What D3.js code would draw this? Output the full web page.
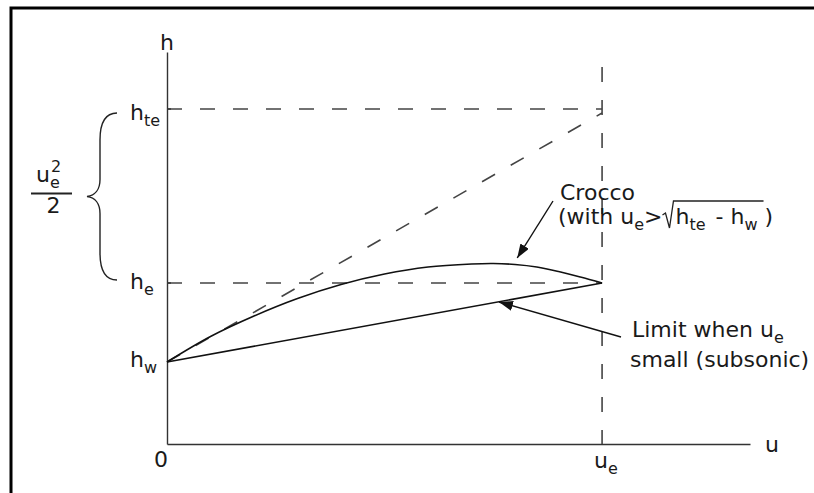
<!DOCTYPE html>
<html>
<head>
<meta charset="utf-8">
<script src="https://cdn.jsdelivr.net/npm/d3@7"></script>
<style>
  body { margin: 0; background: #fff; }
  text { font-family: "DejaVu Sans", Verdana, sans-serif; fill: #1a1a1a; }
</style>
</head>
<body>
<div id="chart"></div>
<script>
// axis extents (u in units of u_e, h in drawing units)
const uMax = 1.34;
const hMax = 392;
const uEdge = 1;
const hDashTop = 377;

// enthalpy levels on the h axis
const levelNames = ["w", "e", "te"];
const levelValues = [82, 161, 335];

// Crocco profile
const croccoU = [0, 0.1, 0.2, 0.3, 0.4, 0.5, 0.6, 0.7, 0.75, 0.8, 0.85, 0.9, 0.95, 1.0];
const croccoH = [82, 107.5, 128, 145.5, 159.5, 170, 177, 180, 180.5, 179.5, 177, 172.5, 167, 161];

// limit for small u_e (straight line h_w -> h_e)
const limitU = [0, 1];
const limitH = [82, 161];

// dashed diagonal h_w -> h_te
const diagU = [0, 1];
const diagH = [82, 331];

// arrow tips for the annotations
const croccoTip = [0.805, 186];
const limitTip = [0.763, 142];

const width = 814, height = 493;

const svg = d3.select("#chart").append("svg")
    .attr("width", width)
    .attr("height", height);

svg.append("defs").append("marker")
    .attr("id", "arrow")
    .attr("viewBox", "0 0 14 10")
    .attr("refX", 14)
    .attr("refY", 5)
    .attr("markerWidth", 14)
    .attr("markerHeight", 10)
    .attr("markerUnits", "userSpaceOnUse")
    .attr("orient", "auto")
  .append("path")
    .attr("d", "M0,0 L14,5 L0,10 z")
    .attr("fill", "#111");

// frame (only top and left edges are in view)
svg.append("rect")
    .attr("x", 11).attr("y", 8)
    .attr("width", 900).attr("height", 600)
    .attr("fill", "none")
    .attr("stroke", "#000")
    .attr("stroke-width", 3);

const x = d3.scaleLinear().domain([0, uMax]).range([167, 750]);
const y = d3.scaleLinear().domain([0, hMax]).range([444, 52]);

// axes
svg.append("g")
    .attr("transform", `translate(0,${y(0)})`)
    .call(d3.axisBottom(x).tickValues([]).tickSizeOuter(0))
    .call(g => g.select(".domain").attr("stroke", "#333").attr("stroke-width", 1.4));
svg.append("g")
    .attr("transform", `translate(${x(0)},0)`)
    .call(d3.axisLeft(y).tickValues([]).tickSizeOuter(0))
    .call(g => g.select(".domain").attr("stroke", "#333").attr("stroke-width", 1.4));

const dashed = svg.append("g")
    .attr("stroke", "#444")
    .attr("stroke-width", 1.6)
    .attr("stroke-dasharray", "15,18")
    .attr("fill", "none");

// horizontal dashed lines at h_e and h_te
dashed.selectAll("line.level")
  .data([levelValues[1], levelValues[2]])
  .join("line")
    .attr("class", "level")
    .attr("x1", x(0)).attr("x2", x(uEdge))
    .attr("y1", d => y(d)).attr("y2", d => y(d));

// vertical dashed line at u_e
dashed.append("line")
    .attr("x1", x(uEdge)).attr("x2", x(uEdge))
    .attr("y1", y(hDashTop)).attr("y2", y(0));

const line = d3.line().x(d => x(d[0])).y(d => y(d[1]));

// dashed diagonal
dashed.append("path")
    .attr("d", line(d3.zip(diagU, diagH)));

// small ticks on the h axis
svg.append("g").selectAll("line")
  .data([levelValues[1], levelValues[2]])
  .join("line")
    .attr("x1", x(0)).attr("x2", x(0) + 4)
    .attr("y1", d => y(d)).attr("y2", d => y(d))
    .attr("stroke", "#333").attr("stroke-width", 1.4);

// limit line and Crocco curve
svg.append("path")
    .attr("d", line(d3.zip(limitU, limitH)))
    .attr("fill", "none")
    .attr("stroke", "#111")
    .attr("stroke-width", 1.6);

svg.append("path")
    .attr("d", line.curve(d3.curveCatmullRom.alpha(0.5))(d3.zip(croccoU, croccoH)))
    .attr("fill", "none")
    .attr("stroke", "#111")
    .attr("stroke-width", 1.6);

// one text element with subscripts as tspans, returns x extents of each part
const mainSize = 22, subSize = 16;
function rich(g, x0, base, parts) {
  const t = g.append("text")
      .attr("x", x0).attr("y", base)
      .attr("font-size", mainSize);
  let cx = x0, prev = 0;
  const pos = [];
  parts.forEach(p => {
    const shift = p.sub ? 6 : 0;
    const ts = t.append("tspan")
        .attr("dy", shift - prev)
        .attr("dx", p.dx || 0)
        .attr("font-size", p.sub ? subSize : mainSize)
        .text(p.t);
    prev = shift;
    cx += p.dx || 0;
    const w = ts.node().getComputedTextLength();
    pos.push([cx, cx + w]);
    cx += w;
  });
  return pos;
}

const labels = svg.append("g");

// axis titles
labels.append("text")
    .attr("x", x(0)).attr("y", 50)
    .attr("text-anchor", "middle")
    .attr("font-size", mainSize)
    .text("h");
labels.append("text")
    .attr("x", x(uMax) + 15).attr("y", 452)
    .attr("font-size", mainSize)
    .text("u");
labels.append("text")
    .attr("x", x(0) - 6).attr("y", 467)
    .attr("text-anchor", "middle")
    .attr("font-size", mainSize)
    .text("0");
rich(labels, x(uEdge) - 8, 468, [{t: "u"}, {t: "e", sub: true}]);

// h level labels
const levelShift = [5, 6, 11];
levelValues.forEach((v, i) => {
  rich(labels, 130, y(v) + levelShift[i], [{t: "h"}, {t: levelNames[i], sub: true}]);
});

// brace between h_te and h_e
const bt = y(levelValues[2]) + 4, bb = y(levelValues[1]) - 3, bm = (bt + bb) / 2;
const bp = d3.path();
bp.moveTo(117, bt);
bp.bezierCurveTo(104, bt, 100, bt + 12, 100, bt + 27);
bp.lineTo(100, bm - 17);
bp.bezierCurveTo(100, bm - 7, 95, bm - 1, 87, bm);
bp.bezierCurveTo(95, bm + 1, 100, bm + 7, 100, bm + 17);
bp.lineTo(100, bb - 27);
bp.bezierCurveTo(100, bb - 12, 104, bb, 117, bb);
svg.append("path")
    .attr("d", bp.toString())
    .attr("fill", "none")
    .attr("stroke", "#222")
    .attr("stroke-width", 1.4);

// u_e^2 / 2
const num = labels.append("text").attr("x", 36).attr("y", 182).attr("font-size", mainSize);
num.append("tspan").text("u");
num.append("tspan").attr("dy", 6).attr("font-size", subSize).text("e");
num.append("tspan").attr("x", 51).attr("dy", -16).attr("font-size", subSize).text("2");
svg.append("line")
    .attr("x1", 31).attr("x2", 72).attr("y1", bm - 3).attr("y2", bm - 3)
    .attr("stroke", "#222").attr("stroke-width", 1.8);
labels.append("text").attr("x", 53.5).attr("y", 213)
    .attr("text-anchor", "middle").attr("font-size", mainSize).text("2");

// Crocco annotation
labels.append("text").attr("x", 560).attr("y", 200).attr("font-size", mainSize).text("Crocco");
const p1 = rich(labels, 558, 224, [
  {t: "(with u"}, {t: "e", sub: true}, {t: ">"},
  {t: "h", dx: 13}, {t: "te", sub: true}, {t: " - h", dx: 3}, {t: "w", sub: true}, {t: "  )"}
]);
const rx = p1[2][1];
svg.append("path")
    .attr("d", `M${rx},215 L${rx + 3},213 L${rx + 7},228 L${rx + 11},201 L${p1[6][1] + 6},201`)
    .attr("fill", "none")
    .attr("stroke", "#222")
    .attr("stroke-width", 1.3);

svg.append("line")
    .attr("x1", 553).attr("y1", 201)
    .attr("x2", x(croccoTip[0])).attr("y2", y(croccoTip[1]))
    .attr("stroke", "#111").attr("stroke-width", 1.4)
    .attr("marker-end", "url(#arrow)");

// limit annotation
rich(labels, 632, 337, [{t: "Limit when u"}, {t: "e", sub: true}]);
labels.append("text").attr("x", 630).attr("y", 367).attr("font-size", mainSize).text("small (subsonic)");

svg.append("line")
    .attr("x1", 621).attr("y1", 337)
    .attr("x2", x(limitTip[0])).attr("y2", y(limitTip[1]))
    .attr("stroke", "#111").attr("stroke-width", 1.4)
    .attr("marker-end", "url(#arrow)");
</script>
</body>
</html>
